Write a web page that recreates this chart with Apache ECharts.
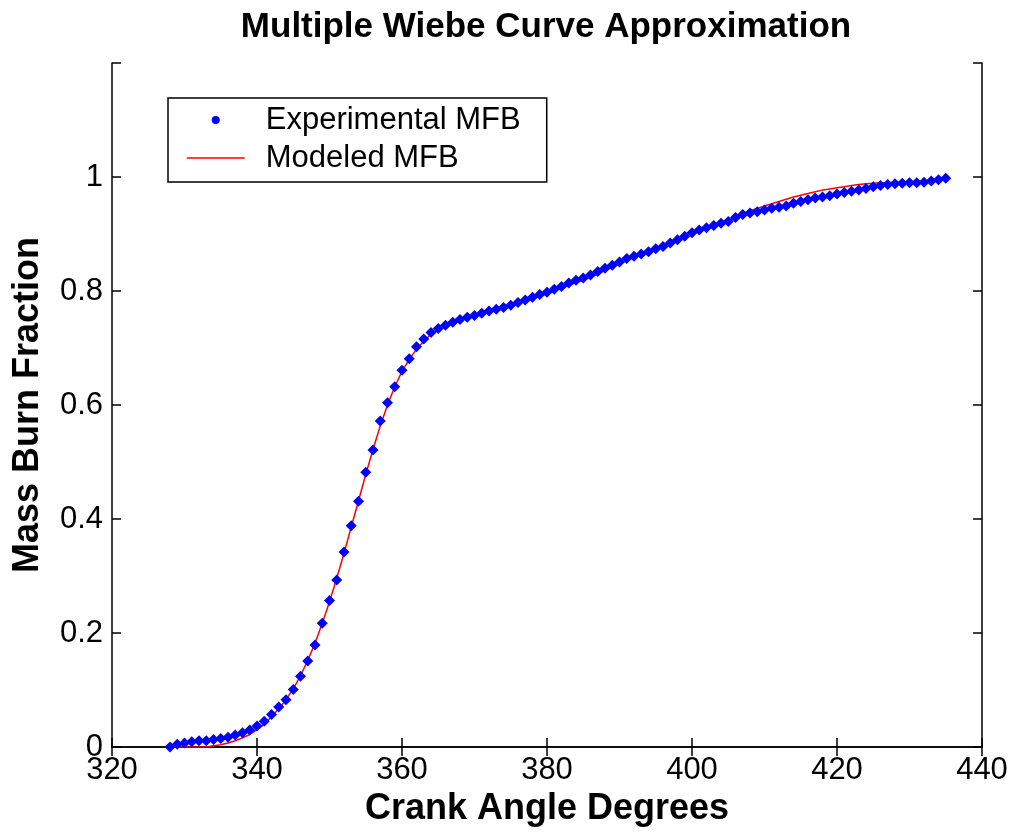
<!DOCTYPE html>
<html>
<head>
<meta charset="utf-8">
<script src="https://cdn.jsdelivr.net/npm/echarts@6/dist/echarts.min.js"></script>
<style>
html,body{margin:0;padding:0;background:#fff;}
#chart{width:1013px;height:835px;}
</style>
</head>
<body>
<div id="chart"></div>
<script>
// Crank angle (degrees), one sample per degree
const angleStart = 328;
const experimentalMFB = [
  0.000, 0.005, 0.007, 0.009, 0.011, 0.011, 0.013, 0.015, 0.017, 0.021,
  0.025, 0.030, 0.037, 0.045, 0.057, 0.070, 0.083, 0.101, 0.124, 0.151,
  0.179, 0.217, 0.257, 0.293, 0.342, 0.388, 0.431, 0.482, 0.521, 0.572,
  0.604, 0.632, 0.661, 0.681, 0.702, 0.716, 0.727, 0.734, 0.740, 0.745,
  0.750, 0.754, 0.757, 0.761, 0.765, 0.768, 0.771, 0.775, 0.780, 0.784,
  0.789, 0.794, 0.798, 0.803, 0.808, 0.814, 0.819, 0.823, 0.828, 0.834,
  0.840, 0.845, 0.851, 0.857, 0.861, 0.865, 0.869, 0.874, 0.878, 0.884,
  0.890, 0.896, 0.902, 0.907, 0.911, 0.915, 0.919, 0.922, 0.929, 0.934,
  0.937, 0.939, 0.942, 0.945, 0.947, 0.949, 0.954, 0.957, 0.960, 0.963,
  0.965, 0.967, 0.970, 0.973, 0.975, 0.977, 0.980, 0.983, 0.985, 0.987,
  0.988, 0.989, 0.990, 0.990, 0.991, 0.993, 0.995, 0.998
];
const modeledMFB = [
  0.000, 0.000, 0.000, 0.000, 0.000, 0.000, 0.002, 0.004, 0.007, 0.011,
  0.016, 0.022, 0.030, 0.040, 0.053, 0.067, 0.083, 0.102, 0.125, 0.152,
  0.182, 0.217, 0.255, 0.296, 0.340, 0.386, 0.432, 0.478, 0.522, 0.563,
  0.600, 0.632, 0.659, 0.680, 0.698, 0.712, 0.724, 0.733, 0.740, 0.745,
  0.750, 0.754, 0.757, 0.761, 0.765, 0.768, 0.771, 0.775, 0.779, 0.782,
  0.786, 0.791, 0.795, 0.800, 0.805, 0.810, 0.815, 0.819, 0.824, 0.830,
  0.836, 0.842, 0.848, 0.854, 0.859, 0.864, 0.869, 0.874, 0.879, 0.884,
  0.890, 0.896, 0.902, 0.907, 0.911, 0.915, 0.919, 0.923, 0.930, 0.936,
  0.941, 0.945, 0.949, 0.953, 0.957, 0.961, 0.965, 0.968, 0.971, 0.974,
  0.977, 0.979, 0.981, 0.983, 0.985, 0.987, 0.988, 0.989, 0.990, 0.990,
  0.991, 0.991, 0.992, 0.992, 0.993, 0.994, 0.995, 0.997
];
const xTicks = { min: 320, max: 440, interval: 20 };
const yTicks = { min: 0, max: 1.2, interval: 0.2 };

const expData = experimentalMFB.map((v, i) => [angleStart + i, v]);
const modData = modeledMFB.map((v, i) => [angleStart + i, v]);

const FONT = '"Liberation Sans", Arial, Helvetica, sans-serif';
const chart = echarts.init(document.getElementById('chart'), null, { renderer: 'canvas' });

const boxAxis = {
  axisLine: { show: true, lineStyle: { color: '#000', width: 1.5 } },
  axisTick: { show: true, inside: true, length: 9, lineStyle: { color: '#000', width: 1.5 } },
  splitLine: { show: false }
};

chart.setOption({
  backgroundColor: '#ffffff',
  animation: false,
  title: {
    text: 'Multiple Wiebe Curve Approximation',
    left: 541, textAlign: 'center', top: 5,
    textStyle: { fontFamily: FONT, fontSize: 35, fontWeight: 'bold', color: '#000' }
  },
  legend: {
    orient: 'vertical',
    left: 168, top: 98,
    backgroundColor: '#fff',
    borderColor: '#000', borderWidth: 1.5, borderRadius: 0,
    padding: [6, 26, 8, 18],
    itemWidth: 58, itemHeight: 8, itemGap: 6,
    textStyle: { fontFamily: FONT, fontSize: 31, color: '#000', padding: [0, 0, 0, 16], lineHeight: 32 },
    data: [
      { name: 'Experimental MFB', icon: 'circle', itemStyle: { color: '#0000ff', opacity: 1 } },
      { name: 'Modeled MFB', itemStyle: { opacity: 0 }, lineStyle: { color: '#ff0000', width: 1.5, opacity: 1 } }
    ]
  },
  grid: { left: 112, right: 31, top: 63, bottom: 88, containLabel: false },
  xAxis: [
    Object.assign({
      type: 'value', position: 'bottom',
      min: xTicks.min, max: xTicks.max, interval: xTicks.interval,
      name: 'Crank Angle Degrees', nameLocation: 'middle', nameGap: 42,
      nameTextStyle: { fontFamily: FONT, fontSize: 36, fontWeight: 'bold', color: '#000' },
      axisLabel: { fontFamily: FONT, fontSize: 31, color: '#000', margin: 8 }
    }, boxAxis),
    Object.assign({
      type: 'value', position: 'top',
      min: xTicks.min, max: xTicks.max, interval: xTicks.interval,
      axisLabel: { show: false }
    }, boxAxis)
  ],
  yAxis: [
    Object.assign({
      type: 'value', position: 'left',
      min: yTicks.min, max: yTicks.max, interval: yTicks.interval,
      name: 'Mass Burn Fraction', nameLocation: 'middle', nameGap: 66, nameRotate: 90,
      nameTextStyle: { fontFamily: FONT, fontSize: 36, fontWeight: 'bold', color: '#000' },
      axisLabel: {
        fontFamily: FONT, fontSize: 31, color: '#000', margin: 9,
        formatter: v => (v > 1.05 ? '' : String(Math.round(v * 10) / 10))
      }
    }, boxAxis),
    Object.assign({
      type: 'value', position: 'right',
      min: yTicks.min, max: yTicks.max, interval: yTicks.interval,
      axisLabel: { show: false }
    }, boxAxis)
  ],
  series: [
    {
      name: 'Experimental MFB', type: 'scatter',
      data: expData, symbol: 'diamond', symbolSize: 11,
      itemStyle: { color: '#0000ff', opacity: 1 }, z: 3
    },
    {
      name: 'Modeled MFB', type: 'line',
      data: modData, symbol: 'none', showSymbol: false,
      lineStyle: { color: '#ff0000', width: 1.5 },
      itemStyle: { color: '#ff0000' }, z: 2
    }
  ]
});
</script>
</body>
</html>
